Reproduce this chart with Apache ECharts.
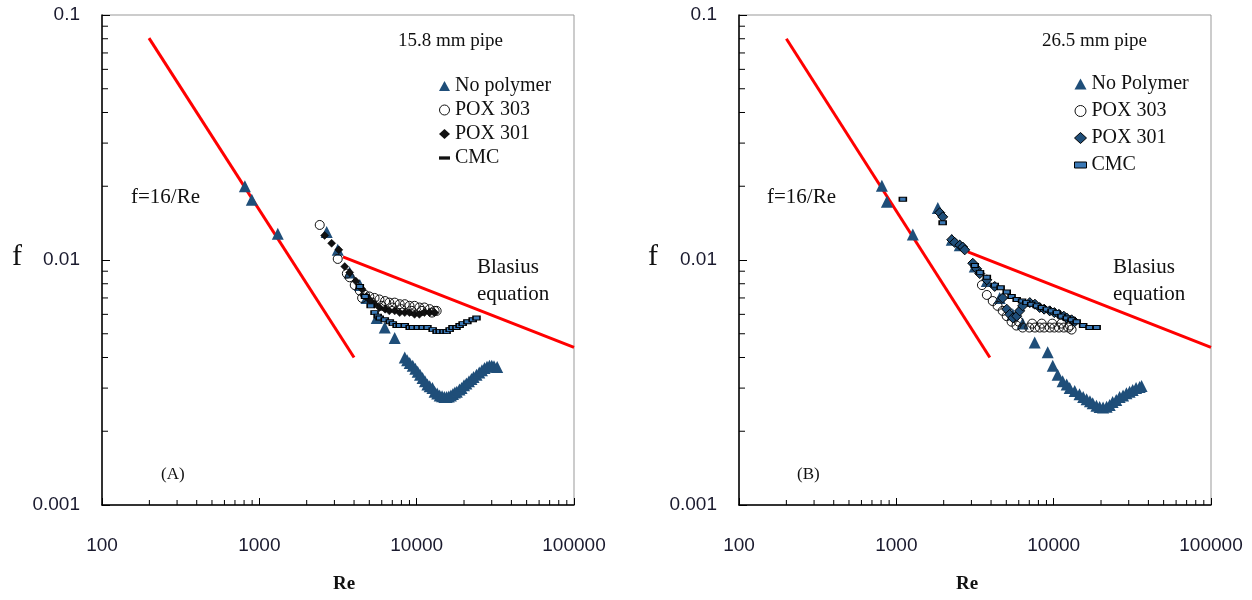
<!DOCTYPE html>
<html>
<head>
<meta charset="utf-8">
<script src="https://cdn.jsdelivr.net/npm/echarts@6/dist/echarts.min.js"></script>
<style>
html,body{margin:0;padding:0;background:#fff;}
#chart{width:1252px;height:600px;}
</style>
</head>
<body>
<div id="chart"></div>
<script>
// ---------- tick values / labels ----------
const xTicks = [100, 1000, 10000, 100000];
const xTickLabels = ['100', '1000', '10000', '100000'];
const yTicks = [0.001, 0.01, 0.1];
const yTickLabels = ['0.001', '0.01', '0.1'];
const xMinor = [200,300,400,500,600,700,800,900,2000,3000,4000,5000,6000,7000,8000,9000,20000,30000,40000,50000,60000,70000,80000,90000];
const yMinor = [0.002,0.003,0.004,0.005,0.006,0.007,0.008,0.009,0.02,0.03,0.04,0.05,0.06,0.07,0.08,0.09];

// ---------- correlation lines (end points) ----------
const leftLaminar = [[199, 0.0805], [4000, 0.0040]];
const leftBlasius = [[3400, 0.0103], [100000, 0.0044]];
const rightLaminar = [[200, 0.0800], [3930, 0.0040]];
const rightBlasius = [[2850, 0.0108], [100000, 0.0044]];

// ---------- panel A: 15.8 mm pipe ----------
const leftNoPolymer = [[809,0.0200],[896,0.0176],[1310,0.0128],
 [2680,0.0130],[3150,0.0110],[3750,0.0089],[4350,0.0079],[4800,0.0070],[5570,0.0058],[6270,0.0053],[7250,0.0048],
 [8400,0.0040],[8700,0.0039],[9030,0.0038],[9440,0.0037],[9800,0.0036],[10150,0.0035],[10500,0.0034],[10900,0.0033],
 [11300,0.0032],[11700,0.0031],[12100,0.00305],[12600,0.0030],[13000,0.0029],[13500,0.00285],[14000,0.0028],[14500,0.00278],
 [15000,0.00276],[15500,0.00276],[16000,0.00277],[16500,0.0028],[17000,0.00284],[17500,0.00288],[18000,0.0029],[18700,0.00296],
 [19300,0.0030],[20000,0.00308],[20700,0.00313],[21500,0.0032],[22300,0.00327],[23000,0.00333],[24000,0.0034],[25000,0.00347],
 [26000,0.00355],[27000,0.00362],[28000,0.00367],[29000,0.0037],[30000,0.0037],[31000,0.00368],[32500,0.00366]];
const leftPOX303 = [[2420,0.0139],[3150,0.0101],[3600,0.0088],[3750,0.0085],[4040,0.0079],[4350,0.0075],[4700,0.0072],
 [5000,0.0071],[5400,0.0070],[5800,0.0069],[6300,0.0068],[6700,0.0067],[7250,0.0067],[7800,0.0066],[8400,0.0066],
 [9000,0.0065],[9700,0.0065],[10400,0.0064],[11200,0.0064],[12100,0.0063],[13000,0.0062],[13400,0.0062],
 [4500,0.0070],[5200,0.0067],[6000,0.0065],[7000,0.0064],[8000,0.0063],[9300,0.0062],[10800,0.0062],[12500,0.0061]];
const leftPOX301 = [[2600,0.0126],[2880,0.0117],[3200,0.0110],[3490,0.0094],[3750,0.0089],[4100,0.0082],[4500,0.0076],
 [4800,0.0071],[5100,0.0068],[5400,0.0066],[5800,0.0064],[6300,0.0063],[6700,0.0062],[7250,0.0062],[7800,0.0061],
 [8400,0.0061],[9000,0.0061],[9700,0.0060],[10400,0.0060],[11200,0.0061],[12100,0.0061],[13000,0.0061]];
const leftCMC = [[4350,0.0078],[4700,0.0071],[5100,0.0065],[5400,0.0061],[5650,0.0059],[5820,0.0058],[6270,0.0057],
 [6750,0.0056],[7050,0.0055],[7460,0.0054],[7800,0.0054],[8400,0.0054],[9030,0.0053],[9440,0.0053],[10150,0.0053],
 [10900,0.0053],[11700,0.0053],[12640,0.0052],[13390,0.0051],[14000,0.0051],[14800,0.0051],[15500,0.0051],[16200,0.0052],
 [16900,0.0053],[17900,0.0053],[18750,0.0054],[19600,0.0055],[21000,0.0056],[22700,0.0057],[24000,0.0058]];

// ---------- panel B: 26.5 mm pipe ----------
const rightNoPolymer = [[809,0.0201],[871,0.0173],[1273,0.0127],[1835,0.0163],[2250,0.0121],[2530,0.0115],[3150,0.0094],
 [3760,0.0082],[4540,0.0070],[5500,0.0060],[6350,0.0055],[7575,0.0046],[9163,0.0042],[9865,0.0037],[10600,0.0034],
 [11400,0.0032],[12100,0.0031],[12640,0.0030],[13600,0.00292],[14600,0.00283],[15400,0.00276],[16200,0.0027],
 [17000,0.00265],[17700,0.0026],[18700,0.00254],[19600,0.00251],[20600,0.0025],[21700,0.00252],[22700,0.00256],
 [23700,0.00263],[25000,0.00268],[26250,0.00276],[27600,0.0028],[29000,0.00286],[30400,0.0029],[31800,0.00295],
 [33400,0.0030],[35200,0.00303],[36200,0.00306]];
const rightPOX303 = [[3500,0.0079],[3760,0.0072],[4100,0.0068],[4400,0.0065],[4740,0.0062],[5030,0.0059],[5400,0.0056],
 [5800,0.0054],[6350,0.0053],[7000,0.0053],[7600,0.0053],[8150,0.0053],[8700,0.0053],[9440,0.0053],[10100,0.0053],
 [10800,0.0053],[11600,0.0053],[12400,0.0053],[13000,0.0052],[6000,0.0056],[7300,0.0055],[8400,0.0055],[9800,0.0055],
 [11200,0.0055],[12700,0.0054]];
const rightPOX301 = [[1888,0.0156],[1972,0.0150],[2250,0.0121],[2350,0.0118],[2530,0.0115],[2640,0.0113],[2720,0.0110],
 [3060,0.0097],[3240,0.0092],[3390,0.0088],[3760,0.0083],[4220,0.0078],[4740,0.0070],[5030,0.0063],[5255,0.0060],
 [5500,0.0058],[5820,0.0059],[6080,0.0062],[6350,0.0065],[7050,0.0067],[7600,0.0066],[8150,0.0064],[8700,0.0063],
 [9440,0.0062],[10100,0.0061],[10800,0.0060],[11600,0.0059],[12100,0.0058],[13000,0.0057],[13600,0.0056]];
const rightCMC = [[1100,0.0177],[1970,0.0142],[3150,0.0095],[3400,0.0089],[3760,0.0085],[4220,0.0079],[4600,0.0077],
 [5030,0.0074],[5400,0.0071],[5820,0.0069],[6300,0.0068],[6700,0.0067],[7200,0.0066],[7800,0.0065],[8400,0.0064],
 [9030,0.0063],[9700,0.0062],[10450,0.0061],[11200,0.0059],[12100,0.0058],[13000,0.0057],[14000,0.0056],[15400,0.0054],
 [16900,0.0053],[18750,0.0053]];

// ---------- styles ----------
const SERIF = 'Liberation Serif';
const SANS = 'Liberation Sans';
const BLUE = '#1F4E79';
const GRID_L = [102, 739];

const chart = echarts.init(document.getElementById('chart'));

function labelFor(ticks, labels) {
  return v => {
    const e = Math.round(Math.log10(v));
    for (let i = 0; i < ticks.length; i++) if (Math.round(Math.log10(ticks[i])) === e) return labels[i];
    return '';
  };
}

function xAxisCfg(g) {
  return {
    type: 'log', logBase: 10, gridIndex: g, min: xTicks[0], max: xTicks[xTicks.length - 1], interval: 1,
    axisLine: { show: true, onZero: false, lineStyle: { color: '#000', width: 1.5 } },
    axisTick: { show: true, inside: true, length: 7, lineStyle: { color: '#000', width: 1 } },
    axisLabel: { margin: 31, fontFamily: SANS, fontSize: 19, color: '#1a1a2e', formatter: labelFor(xTicks, xTickLabels) },
    splitLine: { show: false }, minorTick: { show: false }
  };
}
function yAxisCfg(g) {
  return {
    type: 'log', logBase: 10, gridIndex: g, min: yTicks[0], max: yTicks[yTicks.length - 1], interval: 1,
    axisLine: { show: true, onZero: false, lineStyle: { color: '#000', width: 1.5 } },
    axisTick: { show: true, inside: true, length: 8, lineStyle: { color: '#000', width: 1 } },
    axisLabel: { margin: 22, fontFamily: SANS, fontSize: 19, color: '#1a1a2e', formatter: labelFor(yTicks, yTickLabels) },
    splitLine: { show: false }, minorTick: { show: false }
  };
}

function minorXSeries(g) {
  return {
    type: 'custom', xAxisIndex: g, yAxisIndex: g, silent: true, clip: false, z: 6,
    data: xMinor.map(v => [v, yTicks[0]]),
    renderItem: (params, api) => {
      const p = api.coord([api.value(0), api.value(1)]);
      return { type: 'line', shape: { x1: p[0], y1: p[1], x2: p[0], y2: p[1] - 5 }, style: { stroke: '#000', lineWidth: 1 } };
    }
  };
}
function minorYSeries(g) {
  return {
    type: 'custom', xAxisIndex: g, yAxisIndex: g, silent: true, clip: false, z: 6,
    data: yMinor.map(v => [xTicks[0], v]),
    renderItem: (params, api) => {
      const p = api.coord([api.value(0), api.value(1)]);
      return { type: 'line', shape: { x1: p[0], y1: p[1], x2: p[0] + 6, y2: p[1] }, style: { stroke: '#000', lineWidth: 1 } };
    }
  };
}
function redLine(g, data) {
  return { type: 'line', xAxisIndex: g, yAxisIndex: g, data: data, symbol: 'none', silent: true, z: 2,
    lineStyle: { color: '#FF0000', width: 3 } };
}
function scatter(g, name, data, symbol, size, style, z) {
  return { type: 'scatter', name: name, xAxisIndex: g, yAxisIndex: g, data: data, symbol: symbol, symbolSize: size,
    itemStyle: Object.assign({ opacity: 1 }, style), z: z, silent: true };
}

const styleTri = { color: BLUE };
const styleCircle = { color: 'rgba(255,255,255,0)', borderColor: '#111', borderWidth: 1 };
const styleDiaL = { color: '#111', borderColor: '#000', borderWidth: 0.5 };
const styleDiaR = { color: BLUE, borderColor: '#000', borderWidth: 1 };
const styleCMC = { color: '#3a78b5', borderColor: '#000', borderWidth: 1.2 };

const legendText = { fontFamily: SERIF, fontSize: 20, color: '#111' };

const option = {
  animation: false,
  backgroundColor: '#fff',
  grid: [
    { left: GRID_L[0], top: 15, width: 472, height: 490, show: true, borderColor: '#999', borderWidth: 1, backgroundColor: 'transparent' },
    { left: GRID_L[1], top: 15, width: 472, height: 490, show: true, borderColor: '#999', borderWidth: 1, backgroundColor: 'transparent' }
  ],
  xAxis: [xAxisCfg(0), xAxisCfg(1)],
  yAxis: [yAxisCfg(0), yAxisCfg(1)],
  legend: [
    { left: 434, top: 71, orient: 'vertical', itemGap: 4, itemWidth: 11, itemHeight: 10, selectedMode: false,
      textStyle: legendText,
      data: [
        { name: 'No polymer', icon: 'triangle', itemStyle: { color: BLUE, opacity: 1 } },
        { name: 'POX 303', icon: 'circle', itemStyle: { color: '#fff', borderColor: '#111', borderWidth: 1, opacity: 1 } },
        { name: 'POX 301', icon: 'diamond', itemStyle: { color: '#111', borderWidth: 0, opacity: 1 } },
        { name: 'CMC', icon: 'path://M0,4 L10,4 L10,7 L0,7 Z', itemStyle: { color: '#111', borderWidth: 0, opacity: 1 } }
      ] },
    { left: 1069, top: 69, orient: 'vertical', itemGap: 7, itemWidth: 12, itemHeight: 11, selectedMode: false,
      textStyle: legendText,
      data: [
        { name: 'No Polymer', icon: 'triangle', itemStyle: { color: BLUE, opacity: 1 } },
        { name: 'POX 303', icon: 'circle', itemStyle: { color: '#fff', borderColor: '#111', borderWidth: 1, opacity: 1 } },
        { name: 'POX 301', icon: 'diamond', itemStyle: { color: BLUE, borderColor: '#000', borderWidth: 1, opacity: 1 } },
        { name: 'CMC', icon: 'path://M0,3 L10,3 L10,8 L0,8 Z', itemStyle: { color: '#3a78b5', borderColor: '#000', borderWidth: 1, opacity: 1 } }
      ] }
  ],
  series: [
    minorXSeries(0), minorYSeries(0), minorXSeries(1), minorYSeries(1),
    redLine(0, leftLaminar), redLine(0, leftBlasius), redLine(1, rightLaminar), redLine(1, rightBlasius),
    scatter(0, 'No polymer', leftNoPolymer, 'triangle', 12, styleTri, 3),
    scatter(0, 'POX 303', leftPOX303, 'circle', 9, styleCircle, 4),
    scatter(0, 'POX 301', leftPOX301, 'diamond', 8, styleDiaL, 5),
    scatter(0, 'CMC', leftCMC, 'rect', [7, 4], styleCMC, 5),
    scatter(1, 'No Polymer', rightNoPolymer, 'triangle', 12, styleTri, 3),
    scatter(1, 'POX 303', rightPOX303, 'circle', 9, styleCircle, 4),
    scatter(1, 'POX 301', rightPOX301, 'diamond', 10, styleDiaR, 5),
    scatter(1, 'CMC', rightCMC, 'rect', [7, 4], styleCMC, 5)
  ],
  graphic: [
    { type: 'text', left: 398, top: 32, style: { text: '15.8 mm pipe', font: '19px "Liberation Serif"', fill: '#111' } },
    { type: 'text', left: 1042, top: 32, style: { text: '26.5 mm pipe', font: '19px "Liberation Serif"', fill: '#111' } },
    { type: 'text', left: 131, top: 187, style: { text: 'f=16/Re', font: '21px "Liberation Serif"', fill: '#111' } },
    { type: 'text', left: 767, top: 187, style: { text: 'f=16/Re', font: '21px "Liberation Serif"', fill: '#111' } },
    { type: 'text', left: 477, top: 254, style: { text: 'Blasius\nequation', font: '21px "Liberation Serif"', lineHeight: 27, fill: '#111' } },
    { type: 'text', left: 1113, top: 254, style: { text: 'Blasius\nequation', font: '21px "Liberation Serif"', lineHeight: 27, fill: '#111' } },
    { type: 'text', left: 161, top: 466, style: { text: '(A)', font: '17px "Liberation Serif"', fill: '#111' } },
    { type: 'text', left: 797, top: 466, style: { text: '(B)', font: '17px "Liberation Serif"', fill: '#111' } },
    { type: 'text', left: 12, top: 242, style: { text: 'f', font: '30px "Liberation Serif"', fill: '#111' } },
    { type: 'text', left: 648, top: 242, style: { text: 'f', font: '30px "Liberation Serif"', fill: '#111' } },
    { type: 'text', left: 333, top: 575, style: { text: 'Re', font: 'bold 19px "Liberation Serif"', fill: '#111' } },
    { type: 'text', left: 956, top: 575, style: { text: 'Re', font: 'bold 19px "Liberation Serif"', fill: '#111' } }
  ]
};
chart.setOption(option);
</script>
</body>
</html>
